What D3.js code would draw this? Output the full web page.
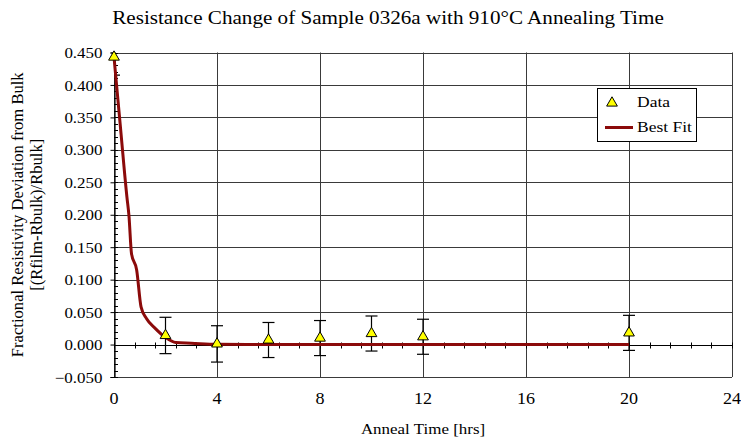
<!DOCTYPE html>
<html>
<head>
<meta charset="utf-8">
<script src="https://cdn.jsdelivr.net/npm/d3@7"></script>
<style>
  body { margin: 0; background: #fff; }
  text { font-family: "Liberation Serif"; fill: #000; }
</style>
</head>
<body>
<svg id="chart" width="741" height="440"></svg>
<script>
// Measured resistance data: anneal time [hrs] and fractional deviation
const annealHours = [0, 2, 4, 6, 8, 10, 12, 20];
const deviation   = [0.443, 0.014, 0.001, 0.007, 0.010, 0.017, 0.012, 0.018];
const errorBar    = [0.028, 0.028, 0.028, 0.027, 0.027, 0.027, 0.027, 0.027];

// Best-fit curve samples
const fitHours = [0, 0.25, 0.5, 0.58, 0.68, 0.88, 1.05, 1.26, 1.6, 2.0, 2.4, 3.0, 4.0, 6.0, 10, 20];
const fitValue = [0.443, 0.335, 0.228, 0.199, 0.140, 0.115, 0.058, 0.040, 0.025, 0.011, 0.003, 0.002, 0.0003, 0, 0, 0];

const xTicks = [0, 4, 8, 12, 16, 20, 24];
const yTicks = [-0.05, 0, 0.05, 0.10, 0.15, 0.20, 0.25, 0.30, 0.35, 0.40, 0.45];

const titleText = "Resistance Change of Sample 0326a with 910°C Annealing Time";
const xTitle = "Anneal Time [hrs]";
const yTitle1 = "Fractional Resistivity Deviation from Bulk";
const yTitle2 = "[(Rfilm-Rbulk)/Rbulk]";
const legendLabels = ["Data", "Best Fit"];

// text is set slightly wide, as in the exported chart
const SX = 1.13;

const svg = d3.select("#chart");
const plot = { left: 114, right: 732, top: 52.5, bottom: 377 };

const x = d3.scaleLinear().domain([0, 24]).range([plot.left, plot.right]);
const y = d3.scaleLinear().domain([-0.05, 0.45]).range([plot.bottom, plot.top]);

// place a horizontally widened text label at (px, py)
function label(parent, px, py, str, size, anchor, sx = SX) {
  return parent.append("text")
    .attr("transform", `translate(${px},${py}) scale(${sx},1)`)
    .attr("text-anchor", anchor || "start")
    .style("font-size", size + "px")
    .text(str);
}

// clip region for the plot area
svg.append("clipPath").attr("id", "plotClip")
  .append("rect")
  .attr("x", plot.left).attr("y", plot.top)
  .attr("width", plot.right - plot.left).attr("height", plot.bottom - plot.top);

// horizontal gridlines
svg.append("g")
  .selectAll("line").data(yTicks).join("line")
  .attr("x1", plot.left).attr("x2", plot.right)
  .attr("y1", d => Math.round(y(d)) + 0.5).attr("y2", d => Math.round(y(d)) + 0.5)
  .attr("stroke", "#3a3a3a").attr("stroke-width", 1);

// vertical gridlines
svg.append("g")
  .selectAll("line").data(xTicks).join("line")
  .attr("x1", d => Math.round(x(d)) + 0.5).attr("x2", d => Math.round(x(d)) + 0.5)
  .attr("y1", plot.top).attr("y2", plot.bottom)
  .attr("stroke", "#3a3a3a").attr("stroke-width", 1);

// y axis (left) with outward major ticks
const yAxis = d3.axisLeft(y).tickValues(yTicks).tickFormat(d3.format(".3f")).tickSize(4).tickPadding(8);
const gy = svg.append("g").attr("transform", `translate(${plot.left + 0.5},0)`).call(yAxis);
gy.attr("font-family", null).attr("font-size", null);
gy.select(".domain").attr("stroke", "#000").attr("stroke-width", 1.2);
gy.selectAll(".tick line").attr("stroke", "#000");
gy.selectAll(".tick text")
  .attr("fill", "#000")
  .attr("x", -12 / SX)
  .attr("dy", "0.34em")
  .attr("transform", `scale(${SX},1)`)
  .style("font-size", "15px");

// y minor ticks (inside)
const yMinor = d3.range(-0.05, 0.4501, 0.01).map(v => +v.toFixed(3));
svg.append("g")
  .selectAll("line").data(yMinor).join("line")
  .attr("x1", plot.left).attr("x2", plot.left + 4)
  .attr("y1", d => Math.round(y(d)) + 0.5).attr("y2", d => Math.round(y(d)) + 0.5)
  .attr("stroke", "#000");

// x axis crossing at zero with cross ticks every 0.8 hrs
const zeroY = Math.round(y(0)) + 0.5;
svg.append("line")
  .attr("x1", plot.left).attr("x2", plot.right)
  .attr("y1", zeroY).attr("y2", zeroY)
  .attr("stroke", "#000").attr("stroke-width", 1);
const xMinor = d3.range(0, 24.001, 0.8);
svg.append("g")
  .selectAll("line").data(xMinor).join("line")
  .attr("x1", d => Math.round(x(d)) + 0.5).attr("x2", d => Math.round(x(d)) + 0.5)
  .attr("y1", zeroY - 3).attr("y2", zeroY + 3)
  .attr("stroke", "#000");

// x tick labels below plot
const gx = svg.append("g");
xTicks.forEach(t => label(gx, x(t), 404, t, 16, "middle"));

// error bars
const pts = annealHours.map((t, i) => ({ t, v: deviation[i], e: errorBar[i] }));
const eb = svg.append("g").attr("clip-path", "url(#plotClip)")
  .attr("stroke", "#000").attr("stroke-width", 1.2);
eb.selectAll("line.v").data(pts).join("line").attr("class", "v")
  .attr("x1", d => x(d.t)).attr("x2", d => x(d.t))
  .attr("y1", d => y(d.v + d.e)).attr("y2", d => y(d.v - d.e));
eb.selectAll("line.top").data(pts).join("line").attr("class", "top")
  .attr("x1", d => x(d.t) - 6).attr("x2", d => x(d.t) + 6)
  .attr("y1", d => y(d.v + d.e)).attr("y2", d => y(d.v + d.e));
eb.selectAll("line.bot").data(pts).join("line").attr("class", "bot")
  .attr("x1", d => x(d.t) - 6).attr("x2", d => x(d.t) + 6)
  .attr("y1", d => y(d.v - d.e)).attr("y2", d => y(d.v - d.e));

// best fit curve
const fit = fitHours.map((t, i) => ({ t, v: fitValue[i] }));
svg.append("path").datum(fit)
  .attr("fill", "none").attr("stroke", "#8b0a0a").attr("stroke-width", 3)
  .attr("stroke-linejoin", "round")
  .attr("d", d3.line().x(d => x(d.t)).y(d => y(d.v)).curve(d3.curveMonotoneX));

// data markers
const tri = d3.symbol().type(d3.symbolTriangle).size(50);
svg.append("g")
  .selectAll("path").data(pts).join("path")
  .attr("transform", d => `translate(${x(d.t)},${y(d.v)})`)
  .attr("d", tri)
  .attr("fill", "#ffff00").attr("stroke", "#000").attr("stroke-width", 1);

// title
label(svg, 388, 24, titleText, 18.7, "middle");

// axis titles
label(svg, (plot.left + plot.right) / 2, 434, xTitle, 15, "middle");
const yc = (plot.top + plot.bottom) / 2;
svg.append("text").attr("transform", `translate(23,${yc}) rotate(-90)`)
  .attr("text-anchor", "middle").style("font-size", "16.6px").text(yTitle1);
svg.append("text").attr("transform", `translate(42,${yc}) rotate(-90)`)
  .attr("text-anchor", "middle").style("font-size", "16.6px").text(yTitle2);

// legend
const lg = svg.append("g");
lg.append("rect").attr("x", 597.5).attr("y", 88.5).attr("width", 99).attr("height", 53)
  .attr("fill", "#fff").attr("stroke", "#000").attr("stroke-width", 1);
lg.append("path").attr("transform", "translate(612,103)").attr("d", tri)
  .attr("fill", "#ffff00").attr("stroke", "#000");
lg.append("line").attr("x1", 605).attr("x2", 633).attr("y1", 127.5).attr("y2", 127.5)
  .attr("stroke", "#8b0a0a").attr("stroke-width", 3);
label(lg, 637, 107, legendLabels[0], 15.5, "start");
label(lg, 637, 132, legendLabels[1], 15.5, "start");
</script>
</body>
</html>
